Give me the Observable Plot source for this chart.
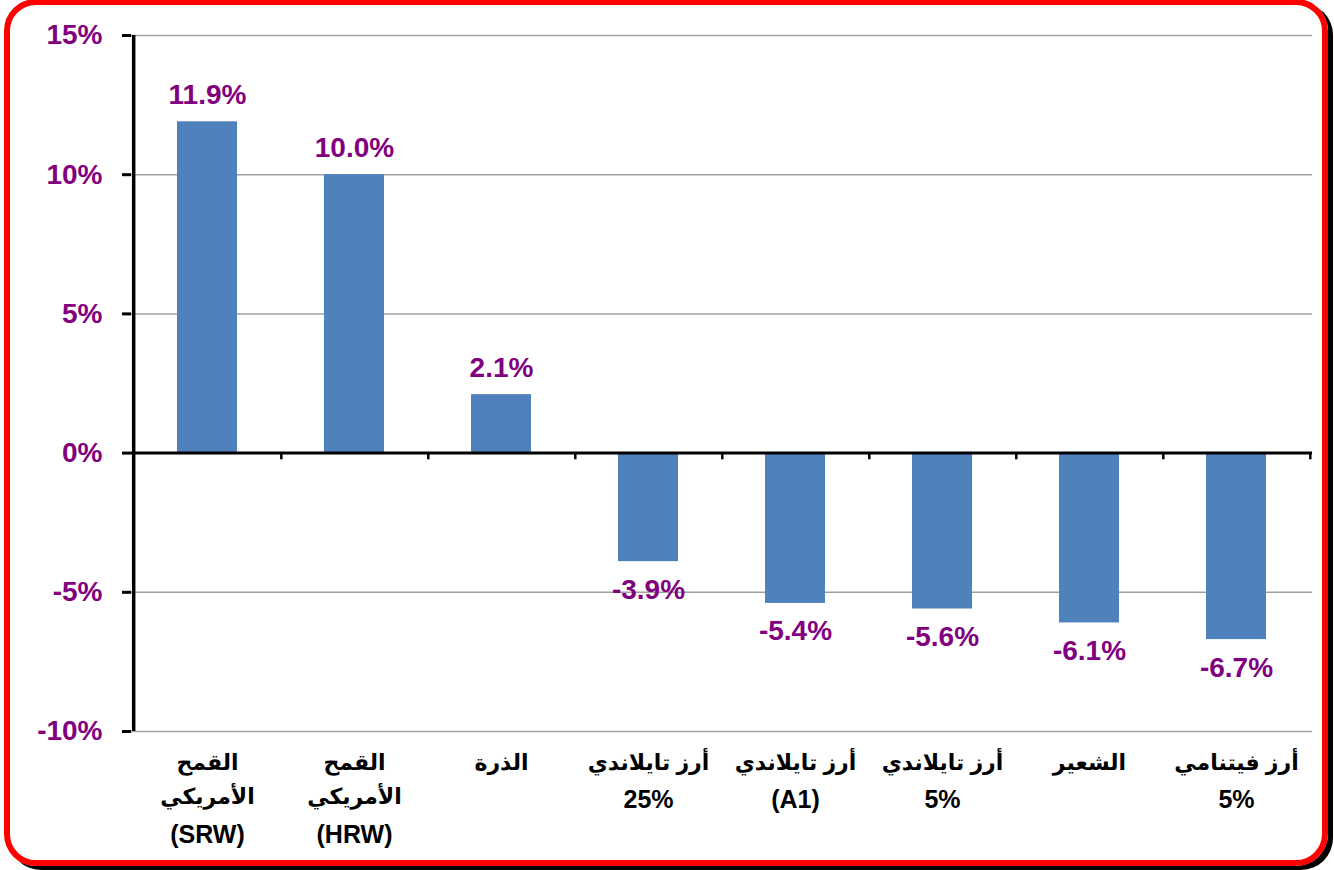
<!DOCTYPE html>
<html><head><meta charset="utf-8">
<script src="https://cdn.jsdelivr.net/npm/d3@7"></script>
<script src="https://cdn.jsdelivr.net/npm/@observablehq/plot@0.6"></script>
<style>
body{margin:0;background:#fff;}
#wrap{position:relative;width:1334px;height:870px;overflow:hidden;background:#fff;}
#frame{position:absolute;left:4px;top:-1px;width:1324px;height:867px;box-sizing:border-box;border:6px solid #ff0000;border-radius:32px;box-shadow:5px 4px 0 #000;pointer-events:none;}
#chart{position:absolute;left:0;top:0;}
</style></head>
<body><div id="wrap"><div id="frame"></div><div id="chart"></div></div>
<script>
const categories = [
  "القمح\nالأمريكي\n(SRW)",
  "القمح\nالأمريكي\n(HRW)",
  "الذرة",
  "أرز تايلاندي\n25%",
  "أرز تايلاندي\n(A1)",
  "أرز تايلاندي\n5%",
  "الشعير",
  "أرز فيتنامي\n5%"
];
const values = [11.9, 10.0, 2.1, -3.9, -5.4, -5.6, -6.1, -6.7];
const yTicks = [-10, -5, 0, 5, 10, 15];

const data = categories.map((c, i) => ({cat: c, v: values[i]}));
const W = 1334, H = 870, ML = 131, MR = 22, MT = 35, MB = 139;
const step = (W - ML - MR) / categories.length;
const purple = "#800080";
const font = "'Liberation Sans', Arial, 'DejaVu Sans', sans-serif";

const chart = Plot.plot({
  width: W, height: H,
  marginLeft: ML, marginRight: MR, marginTop: MT, marginBottom: MB,
  style: {background: "transparent", fontFamily: font},
  x: {domain: categories, paddingInner: 0.59, paddingOuter: 0.295, label: null},
  y: {domain: [-10, 15], label: null},
  marks: [
    Plot.ruleY(yTicks, {stroke: "#a0a0a0", strokeWidth: 1.5}),
    Plot.barY(data, {x: "cat", y: "v", fill: "#4f81bd"}),
    Plot.ruleY([0], {stroke: "#000", strokeWidth: 3}),
    Plot.ruleX([categories[0]], {y1: -10, y2: 15, dx: -step / 2, stroke: "#000", strokeWidth: 3.5}),
    Plot.ruleX(categories, {x: d => d, y1: 0, y2: -0.24, dx: step / 2, stroke: "#000", strokeWidth: 2.5}),
    Plot.axisY({ticks: yTicks, tickSize: 9, tickPadding: 20, strokeWidth: 3, stroke: "#000",
      tickFormat: d => d + "%", fill: purple, fontSize: 28, fontWeight: "bold", label: null}),
    Plot.axisX({tickSize: 0, tickPadding: 14, fontSize: 22, fontWeight: "bold", fill: "#000",
      lineHeight: 1.55, label: null}),
    Plot.text(data.filter(d => d.v >= 0), {x: "cat", y: "v", text: d => d.v.toFixed(1) + "%",
      dy: -27, fill: purple, fontSize: 28, fontWeight: "bold"}),
    Plot.text(data.filter(d => d.v < 0), {x: "cat", y: "v", text: d => d.v.toFixed(1) + "%",
      dy: 28, fill: purple, fontSize: 28, fontWeight: "bold"})
  ]
});
// enlarge Latin-only lines of the category labels
chart.querySelectorAll('g[aria-label="x-axis tick label"] tspan').forEach(t => {
  if (/^[\x00-\x7F]+$/.test(t.textContent)) t.setAttribute("font-size", 25);
});
document.getElementById("chart").appendChild(chart);
</script>
</body></html>
